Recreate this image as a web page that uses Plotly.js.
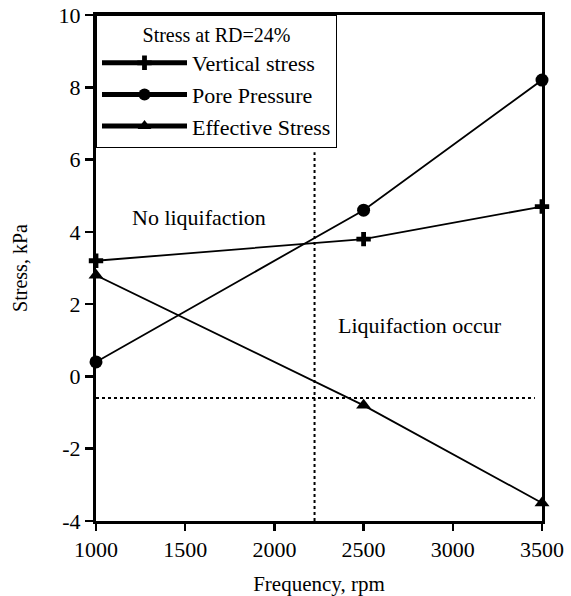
<!DOCTYPE html>
<html>
<head>
<meta charset="utf-8">
<script src="https://cdn.plot.ly/plotly-3.0.1.min.js"></script>
<style>
  html, body { margin: 0; padding: 0; background: #fff; }
  #chart { width: 571px; height: 596px; }
</style>
</head>
<body>
<div id="chart"></div>
<script>
// Centrifuge frequency (rpm) and stresses (kPa) at relative density 24%
const frequency = [1000, 2500, 3500];
const verticalStress = [3.2, 3.8, 4.7];
const porePressure = [0.4, 4.6, 8.2];
const effectiveStress = [2.8, -0.8, -3.5];

// Axis ticks (plain hyphen for negative values)
const xTicks = [1000, 1500, 2000, 2500, 3000, 3500];
const yTicks = [-4, -2, 0, 2, 4, 6, 8, 10];
const yTickText = ['-4', '-2', '0', '2', '4', '6', '8', '10'];

// Reference lines separating the liquefaction zones
const criticalFrequency = 2225;
const criticalLineTop = 6.2;
const thresholdStress = -0.6;
const thresholdEnd = 3460;

const serif = '"Liberation Serif", "Times New Roman", Times, serif';

function series(name, y, symbol, size) {
  return {
    x: frequency, y: y, name: name,
    type: 'scatter', mode: 'lines+markers',
    line: { color: '#000', width: 1.8 },
    marker: { symbol: symbol, size: size, color: '#000' },
    cliponaxis: false
  };
}

const traces = [
  series('Vertical stress', verticalStress, 'cross', 12),
  series('Pore Pressure', porePressure, 'circle', 13),
  series('Effective Stress', effectiveStress, 'triangle-up', 13)
];

const layout = {
  width: 571, height: 596,
  margin: { l: 96, r: 29, t: 15, b: 75 },
  paper_bgcolor: '#fff', plot_bgcolor: '#fff',
  font: { family: serif, size: 20, color: '#000' },
  showlegend: true,
  legend: {
    x: 0, y: 1, xanchor: 'left', yanchor: 'top',
    bgcolor: '#fff', bordercolor: '#000', borderwidth: 1,
    font: { family: serif, size: 22, color: '#000' },
    title: { text: 'Stress at RD=24%', side: 'top center', font: { family: serif, size: 20 } },
    itemsizing: 'constant',
    itemwidth: 85
  },
  xaxis: {
    range: [1000, 3500], tickvals: xTicks,
    showgrid: false, zeroline: false,
    showline: true, linecolor: '#000', linewidth: 3, mirror: true,
    ticks: 'outside', ticklen: 7, tickwidth: 2.5, tickcolor: '#000',
    tickfont: { family: serif, size: 22 },
    title: { text: 'Frequency, rpm', font: { family: serif, size: 21 }, standoff: 16 }
  },
  yaxis: {
    range: [-4, 10], tickvals: yTicks, ticktext: yTickText,
    showgrid: false, zeroline: false,
    showline: true, linecolor: '#000', linewidth: 3, mirror: true,
    ticks: 'outside', ticklen: 8, tickwidth: 2.5, tickcolor: '#000',
    tickfont: { family: serif, size: 22 },
    title: { text: 'Stress, kPa', font: { family: serif, size: 20 }, standoff: 26 }
  },
  shapes: [
    {
      type: 'line', xref: 'x', yref: 'y',
      x0: criticalFrequency, x1: criticalFrequency, y0: -4, y1: criticalLineTop,
      line: { color: '#000', width: 2, dash: 'dot' }
    },
    {
      type: 'line', xref: 'x', yref: 'y',
      x0: 1000, x1: thresholdEnd, y0: thresholdStress, y1: thresholdStress,
      line: { color: '#000', width: 2, dash: 'dot' }
    }
  ],
  annotations: [
    {
      x: 1580, y: 4.4, xref: 'x', yref: 'y', showarrow: false,
      text: 'No liquifaction', font: { family: serif, size: 22 }
    },
    {
      x: 2815, y: 1.4, xref: 'x', yref: 'y', showarrow: false,
      text: 'Liquifaction occur', font: { family: serif, size: 22 }
    }
  ]
};

Plotly.newPlot('chart', traces, layout, { displayModeBar: false, staticPlot: true });
</script>
</body>
</html>
